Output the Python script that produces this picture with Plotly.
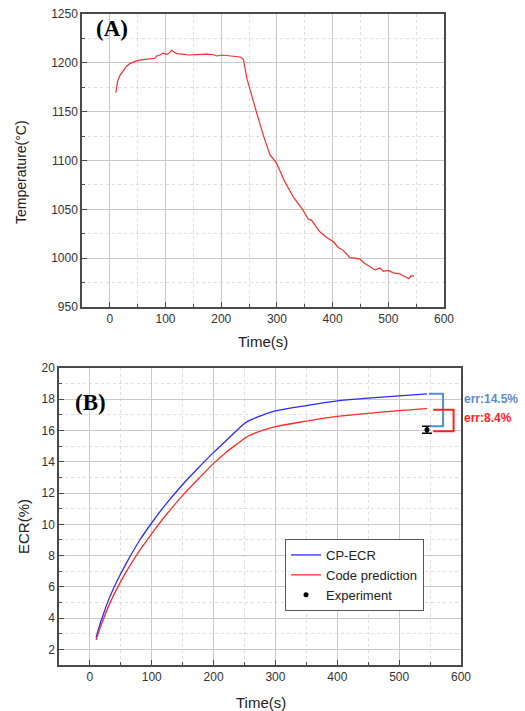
import plotly.graph_objects as go

# ---------------- data ----------------
temp_t = [10.8, 13.8, 18, 24.5, 30, 36.5, 42, 48, 56, 66, 75, 81, 84, 90, 96, 102, 106, 111, 115, 120,
          130, 141, 155, 174, 185, 192, 201, 210, 216, 226, 234, 237, 240, 246, 255, 264, 276, 287.5,
          299.5, 314, 329, 346.5, 356, 362, 377, 390, 401, 410, 419, 431, 440, 449, 458, 467, 476,
          485, 491, 500, 509, 520, 532, 537, 541, 546]
temp_c = [1169.5, 1180.8, 1187, 1192.7, 1196.5, 1199.5, 1201, 1202, 1203, 1203.6, 1204.2, 1204.7, 1207,
          1208, 1210, 1208.7, 1209.5, 1213, 1211, 1209.5, 1209, 1208, 1208.5, 1209, 1208.5, 1207,
          1208, 1207.5, 1207, 1206.8, 1206, 1205, 1203, 1184, 1165, 1148, 1125, 1106, 1097, 1078.5,
          1063, 1049.5, 1040, 1039, 1027, 1021, 1017, 1011, 1008, 1000.5, 1000, 999, 994.5, 991.5, 988,
          990, 986.5, 987.5, 985, 984, 981, 979, 982, 981.7]

ecr_t = [10, 15, 20, 30, 40, 50, 60, 80, 100, 120, 150, 180, 200, 220, 240, 250, 260, 280, 300,
         350, 400, 450, 500, 545]
cp_ecr = [2.75, 3.45, 4.05, 5.15, 6.05, 6.85, 7.6, 8.95, 10.1, 11.15, 12.55, 13.8, 14.6, 15.35, 16.1,
          16.45, 16.68, 17.0, 17.25, 17.6, 17.9, 18.07, 18.22, 18.35]
code_pred = [2.6, 3.2, 3.75, 4.75, 5.6, 6.35, 7.05, 8.3, 9.4, 10.45, 11.85, 13.1, 13.9, 14.6, 15.2,
             15.5, 15.72, 16.02, 16.25, 16.6, 16.9, 17.1, 17.27, 17.4]

exp_t = [545]
exp_ecr = [16.05]
exp_err = [0.22]

err_labels = ["err:14.5%", "err:8.4%"]

# ---------------- style ----------------
RED = "#ff2a2a"
BLUE = "#2b2bff"
BR_BLUE = "#5b8ad3"
BR_RED = "#ff2020"
FRAME = "#4a4a4a"
GRID = "#c9c9c9"
MINOR = "#dedede"
TICKF = dict(family="Liberation Sans, Arial", size=12, color="#333333")

fig = go.Figure()

fig.add_trace(go.Scatter(x=temp_t, y=temp_c, mode="lines", line=dict(color=RED, width=1.2),
                         showlegend=False, xaxis="x", yaxis="y"))

fig.add_trace(go.Scatter(x=ecr_t, y=cp_ecr, mode="lines", name="CP-ECR",
                         line=dict(color=BLUE, width=1.3, shape="spline"), xaxis="x2", yaxis="y2"))
fig.add_trace(go.Scatter(x=ecr_t, y=code_pred, mode="lines", name="Code prediction",
                         line=dict(color=RED, width=1.3, shape="spline"), xaxis="x2", yaxis="y2"))
fig.add_trace(go.Scatter(x=exp_t, y=exp_ecr, mode="markers", name="Experiment",
                         marker=dict(color="black", size=5),
                         error_y=dict(type="data", array=exp_err, color="black", thickness=1.5, width=5),
                         xaxis="x2", yaxis="y2"))

# brackets linking model end values to experiment
t_end = ecr_t[-1]
bx = [t_end + 3, t_end + 26, t_end + 26, t_end + 4]
by = [cp_ecr[-1], cp_ecr[-1], exp_ecr[0] + 0.22, exp_ecr[0] + 0.22]
fig.add_trace(go.Scatter(x=bx, y=by, mode="lines", line=dict(color=BR_BLUE, width=2),
                         showlegend=False, xaxis="x2", yaxis="y2", hoverinfo="skip"))
rx = [t_end + 10, t_end + 43, t_end + 43, t_end + 10]
ry = [code_pred[-1] - 0.07, code_pred[-1] - 0.07, exp_ecr[0] - 0.1, exp_ecr[0] - 0.1]
fig.add_trace(go.Scatter(x=rx, y=ry, mode="lines", line=dict(color=BR_RED, width=2),
                         showlegend=False, xaxis="x2", yaxis="y2", hoverinfo="skip"))

common_axis = dict(showline=True, mirror=True, linecolor=FRAME, linewidth=1.5,
                   ticks="inside", ticklen=5, tickcolor=FRAME, tickfont=TICKF,
                   showgrid=True, gridcolor=GRID, gridwidth=1, zeroline=False,
                   automargin=False)

W, H = 525, 711
def dx(a, b):
    return [a / W, b / W]
def dy(top, bottom):
    return [1 - bottom / H, 1 - top / H]

fig.update_layout(
    width=W, height=H,
    margin=dict(l=0, r=0, t=0, b=0, autoexpand=False),
    paper_bgcolor="white", plot_bgcolor="white",
    xaxis=dict(domain=dx(82, 444), range=[-50, 600], dtick=100, tick0=0, anchor="y",
               minor=dict(dtick=50, showgrid=True, gridcolor=MINOR, griddash="dot",
                          ticks="inside", ticklen=3, tickcolor=FRAME), **common_axis),
    yaxis=dict(domain=dy(14, 307), range=[950, 1250], dtick=50, tick0=0, anchor="x",
               minor=dict(dtick=25, showgrid=True, gridcolor=MINOR, griddash="dot",
                          ticks="inside", ticklen=3, tickcolor=FRAME), **common_axis),
    xaxis2=dict(domain=dx(59, 461), range=[-50, 600], dtick=100, tick0=0, anchor="y2",
                minor=dict(dtick=50, showgrid=True, gridcolor=MINOR, griddash="dot",
                           ticks="inside", ticklen=3, tickcolor=FRAME), **common_axis),
    yaxis2=dict(domain=dy(368, 665), range=[1, 20], dtick=2, tick0=0, anchor="x2",
                minor=dict(dtick=1, showgrid=True, gridcolor=MINOR, griddash="dot",
                           ticks="inside", ticklen=3, tickcolor=FRAME), **common_axis),
    legend=dict(x=285 / W, y=1 - 539 / H, xanchor="left", yanchor="top",
                bgcolor="white", bordercolor="#555555", borderwidth=1,
                font=dict(family="Liberation Sans, Arial", size=13, color="#222222"),
                tracegroupgap=0),
)

ann_font = dict(family="Liberation Sans, Arial", size=15, color="#222222")
def label(text, px, py, **kw):
    fig.add_annotation(text=text, x=px / W, y=1 - py / H, xref="paper", yref="paper",
                       xanchor="center", yanchor="middle", showarrow=False, **kw)

label("Time(s)", 263, 341, font=ann_font)
label("Time(s)", 261, 702, font=ann_font)
label("Temperature(°C)", 21, 172, textangle=-90, font=dict(ann_font, size=14))
label("ECR(%)", 23, 527, textangle=-90, font=ann_font)

panel_font = dict(family="Liberation Serif, Times New Roman", size=23, color="black")
label("<b>(A)</b>", 112, 29, font=panel_font)
label("<b>(B)</b>", 90, 402, font=panel_font)

err_font = dict(family="Liberation Sans, Arial", size=12)
fig.add_annotation(text="<b>" + err_labels[0] + "</b>", x=462 / W, y=18.0, xref="paper", yref="y2",
                   xanchor="left", yanchor="middle", showarrow=False, font=dict(err_font, color=BR_BLUE))
fig.add_annotation(text="<b>" + err_labels[1] + "</b>", x=462 / W, y=16.8, xref="paper", yref="y2",
                   xanchor="left", yanchor="middle", showarrow=False, font=dict(err_font, color=BR_RED))

fig.write_html("out.html", config={"displayModeBar": False},
               post_script="document.body.style.margin='0';document.body.style.overflow='hidden';")
